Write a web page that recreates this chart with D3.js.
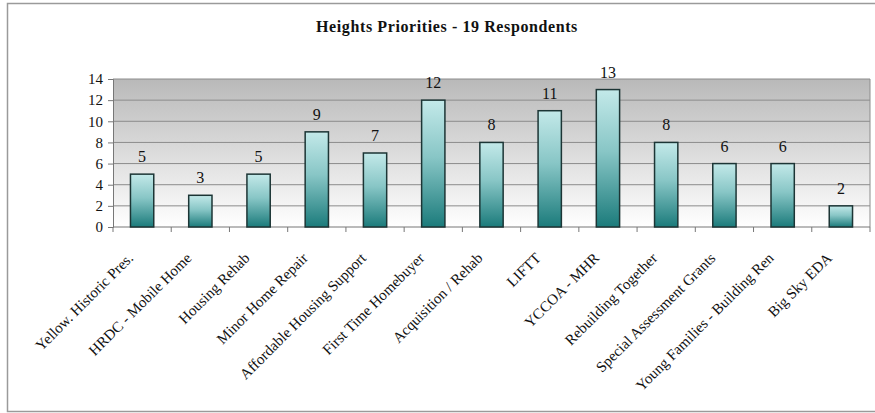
<!DOCTYPE html>
<html>
<head>
<meta charset="utf-8">
<script src="https://cdn.jsdelivr.net/npm/d3@7"></script>
<style>
  html, body { margin: 0; padding: 0; background: #fff; }
  svg { display: block; }
  svg text { font-family: "Liberation Serif", "Times New Roman", Times, serif; fill: #111; }
</style>
</head>
<body>
<svg id="chart" width="875" height="413" font-family="Liberation Serif, serif"></svg>
<script>
// Survey results: number of respondents naming each program as a priority
const categories = [
  "Yellow. Historic Pres.", "HRDC - Mobile Home", "Housing Rehab", "Minor Home Repair",
  "Affordable Housing Support", "First Time Homebuyer", "Acquisition / Rehab", "LIFTT",
  "YCCOA - MHR", "Rebuilding Together", "Special Assessment Grants",
  "Young Families - Building Ren", "Big Sky EDA"
];
const counts = [5, 3, 5, 9, 7, 12, 8, 11, 13, 8, 6, 6, 2];
const yTicks = [0, 2, 4, 6, 8, 10, 12, 14];
const title = "Heights Priorities - 19 Respondents";

const svg = d3.select("#chart");
const plot = { left: 113, right: 870, top: 79, bottom: 227 };
const serif = "Liberation Serif, Times New Roman, serif";

const defs = svg.append("defs");
const bg = defs.append("linearGradient").attr("id", "plotBg")
  .attr("x1", 0).attr("y1", 0).attr("x2", 0).attr("y2", 1);
bg.append("stop").attr("offset", "0%").attr("stop-color", "#b9b9b9");
bg.append("stop").attr("offset", "100%").attr("stop-color", "#ffffff");

const barFill = defs.append("linearGradient").attr("id", "barFill")
  .attr("x1", 0).attr("y1", 0).attr("x2", 0).attr("y2", 1);
barFill.append("stop").attr("offset", "0%").attr("stop-color", "#c3e9e9");
barFill.append("stop").attr("offset", "45%").attr("stop-color", "#88c6c6");
barFill.append("stop").attr("offset", "100%").attr("stop-color", "#1b7b7b");

// Outer chart frame
svg.append("rect")
  .attr("x", 7.5).attr("y", 3.5).attr("width", 880).attr("height", 408)
  .attr("fill", "#fff").attr("stroke", "#9a9a9a").attr("stroke-width", 1.5);

// Title
svg.append("text")
  .attr("x", 447).attr("y", 32)
  .attr("text-anchor", "middle")
  .attr("font-family", serif)
  .attr("font-size", 16).attr("font-weight", "bold")
  .attr("letter-spacing", 0.6)
  .text(title);

const x = d3.scaleBand().domain(categories).range([plot.left, plot.right]).paddingInner(0).paddingOuter(0);
const y = d3.scaleLinear().domain([0, 14]).range([plot.bottom, plot.top]);

// Plot background
svg.append("rect")
  .attr("x", plot.left).attr("y", plot.top)
  .attr("width", plot.right - plot.left).attr("height", plot.bottom - plot.top)
  .attr("fill", "url(#plotBg)");

// Horizontal gridlines
svg.append("g").selectAll("line").data(yTicks.filter(d => d > 0)).join("line")
  .attr("x1", plot.left).attr("x2", plot.right)
  .attr("y1", d => y(d)).attr("y2", d => y(d))
  .attr("stroke", "#8c8c8c").attr("stroke-width", 1);

// Plot area right edge
svg.append("line")
  .attr("x1", plot.right).attr("x2", plot.right)
  .attr("y1", plot.top).attr("y2", plot.bottom)
  .attr("stroke", "#8c8c8c");

// Y axis
const yAxis = svg.append("g").attr("transform", `translate(${plot.left},0)`)
  .call(d3.axisLeft(y).tickValues(yTicks).tickSize(5).tickPadding(5));
yAxis.attr("font-family", serif);
yAxis.select(".domain").attr("stroke", "#777");
yAxis.selectAll(".tick line").attr("stroke", "#777");
yAxis.selectAll(".tick text")
  .attr("font-family", serif)
  .attr("font-size", 15).attr("fill", "#111");

// X axis with ticks at band boundaries
const xAxis = svg.append("g").attr("transform", `translate(0,${plot.bottom})`)
  .attr("font-family", serif);
xAxis.append("line")
  .attr("x1", plot.left).attr("x2", plot.right)
  .attr("stroke", "#777");
const bounds = categories.map(c => x(c)).concat([x(categories[categories.length - 1]) + x.bandwidth()]);
xAxis.selectAll("line.tk").data(bounds).join("line").attr("class", "tk")
  .attr("x1", d => d).attr("x2", d => d).attr("y1", 0).attr("y2", 5)
  .attr("stroke", "#777");

// Rotated category labels
xAxis.selectAll("text.cat").data(categories).join("text").attr("class", "cat")
  .attr("font-family", serif)
  .attr("font-size", 15)
  .attr("text-anchor", "end")
  .attr("transform", d => `translate(${x(d) + x.bandwidth() / 2 - 8},${32}) rotate(-45)`)
  .text(d => d);

// Bars
const barW = x.bandwidth() * 0.4;
svg.append("g").selectAll("rect").data(counts).join("rect")
  .attr("x", (d, i) => x(categories[i]) + (x.bandwidth() - barW) / 2)
  .attr("y", d => y(d))
  .attr("width", barW)
  .attr("height", d => y(0) - y(d))
  .attr("fill", "url(#barFill)")
  .attr("stroke", "#1c3535").attr("stroke-width", 1.5);

// Value labels
svg.append("g").selectAll("text").data(counts).join("text")
  .attr("x", (d, i) => x(categories[i]) + x.bandwidth() / 2)
  .attr("y", d => y(d) - 12)
  .attr("text-anchor", "middle")
  .attr("font-family", serif)
  .attr("font-size", 16)
  .text(d => d);
</script>
</body>
</html>
